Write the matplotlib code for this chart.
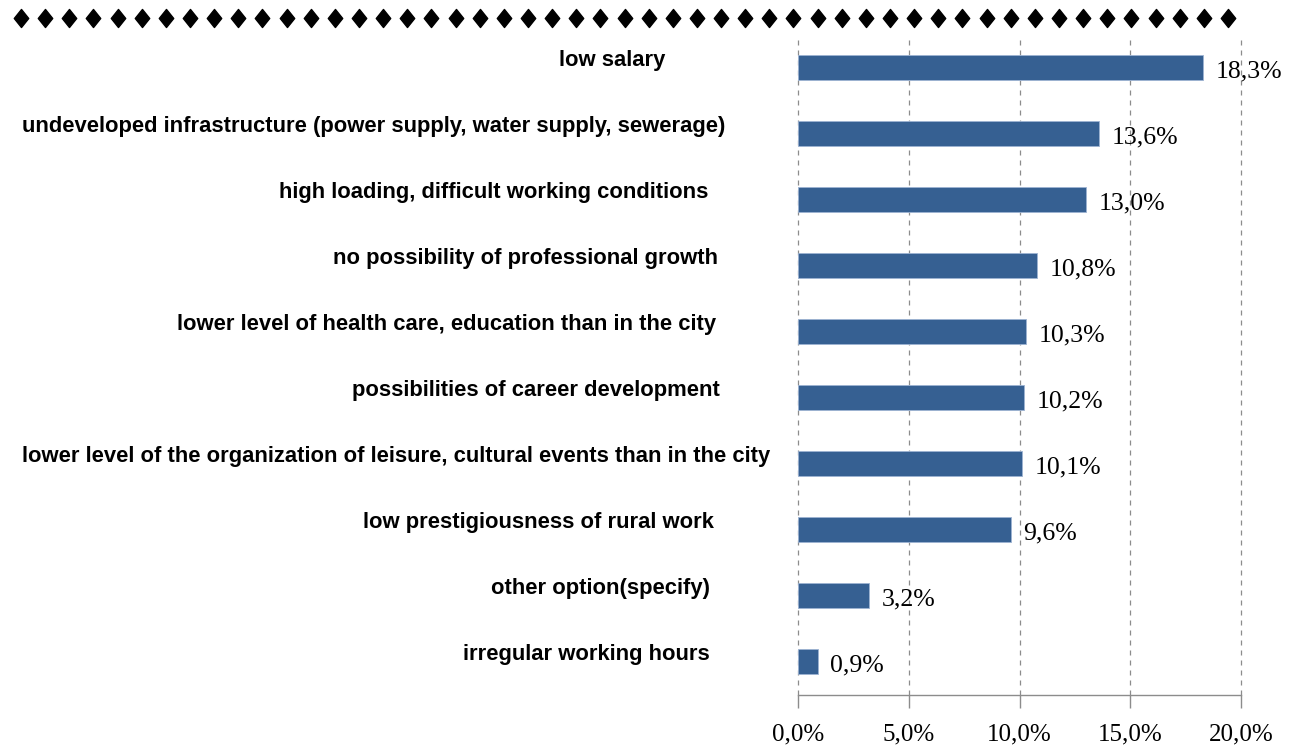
import matplotlib
matplotlib.use("Agg")
import matplotlib.pyplot as plt
from matplotlib.lines import Line2D
from matplotlib.path import Path
from matplotlib.ticker import FixedLocator
from matplotlib import font_manager

categories = [
    "low salary",
    "undeveloped infrastructure (power supply, water supply, sewerage)",
    "high loading, difficult working conditions",
    "no possibility of professional growth",
    "lower level of health care, education than in the city",
    "possibilities of career development",
    "lower level of the organization of leisure, cultural events than in the city",
    "low prestigiousness of rural work",
    "other option(specify)",
    "irregular working hours",
]
values = [18.3, 13.6, 13.0, 10.8, 10.3, 10.2, 10.1, 9.6, 3.2, 0.9]
value_labels = ["18,3%", "13,6%", "13,0%", "10,8%", "10,3%", "10,2%", "10,1%", "9,6%", "3,2%", "0,9%"]
xticks = [0, 5, 10, 15, 20]
xtick_labels = ["0,0%", "5,0%", "10,0%", "15,0%", "20,0%"]

# layout: right edge (px) of each category label
label_right_px = [665, 725, 708, 718, 716, 720, 770, 714, 710, 710]

available = {f.name for f in font_manager.fontManager.ttflist}
label_family = "Liberation Sans Narrow" if "Liberation Sans Narrow" in available else "Liberation Sans"

W, H = 1300, 749
fig = plt.figure(figsize=(13, 7.49), dpi=100)
ax = fig.add_axes([798 / W, 1 - 694.5 / H, (1241 - 798) / W, (694.5 - 34.5) / H])

bar_color = "#366092"
y = list(range(len(categories)))
ax.barh(y, values, height=0.38, color=bar_color, edgecolor="#9db3d2", linewidth=0.6, zorder=3)
ax.set_ylim(len(categories) - 0.5, -0.5)
ax.set_xlim(0, 20)

ax.xaxis.set_major_locator(FixedLocator(xticks))
ax.set_xticklabels(xtick_labels, fontfamily="Liberation Serif", fontsize=18)
ax.tick_params(axis="x", direction="out", length=9, width=1, color="#8c8c8c", pad=12)
ax.set_yticks([])
for s in ["left", "right", "top"]:
    ax.spines[s].set_visible(False)
ax.spines["bottom"].set_color("#8c8c8c")
ax.spines["bottom"].set_linewidth(1)
ax.grid(axis="x", color="#8c8c8c", linestyle=(0, (4, 4)), linewidth=0.9, zorder=0)
for gl in ax.get_xgridlines():
    gl.set_clip_on(False)

for yi, v, lab in zip(y, values, value_labels):
    ax.annotate(lab, xy=(v, yi), xytext=(9, -2.5), textcoords="offset points",
                ha="left", va="center", fontfamily="Liberation Serif", fontsize=18.5)

# category labels, fit the longest to its measured width
renderer = fig.canvas.get_renderer()
probe = fig.text(0, 0, categories[6], fontfamily=label_family, fontweight="bold", fontsize=15)
wpx = probe.get_window_extent(renderer).width
probe.remove()
fs = 15 * 752 / wpx
for yi, lab, rx in zip(y, categories, label_right_px):
    disp_y = ax.transData.transform((0, yi))[1] + 7
    fig.text(rx / W, disp_y / H, lab, ha="right", va="center",
             fontfamily=label_family, fontweight="bold", fontsize=fs)

# decorative diamond row
n_d = 51
xs = [(21 + i * (1228 - 21) / (n_d - 1)) / W for i in range(n_d)]
ys = [1 - 18 / H] * n_d
diamond = Path([(0, 1), (0.8, 0), (0, -1), (-0.8, 0), (0, 1)],
               [Path.MOVETO, Path.LINETO, Path.LINETO, Path.LINETO, Path.CLOSEPOLY])
fig.add_artist(Line2D(xs, ys, transform=fig.transFigure, marker=diamond, markersize=13,
                      linestyle="none", color="black"))

fig.savefig("out.png", dpi=100)
